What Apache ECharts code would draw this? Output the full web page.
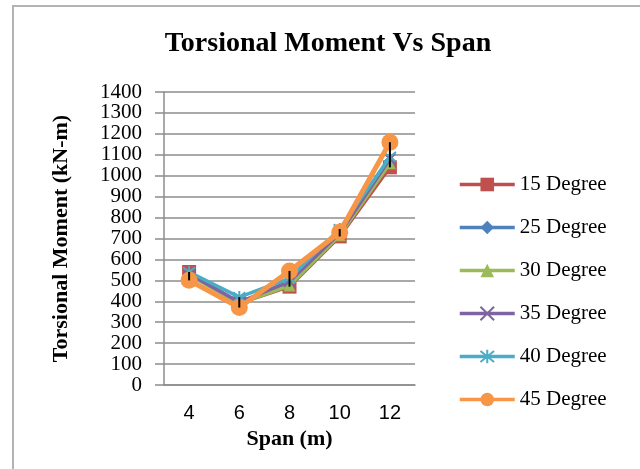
<!DOCTYPE html>
<html>
<head>
<meta charset="utf-8">
<script src="https://cdn.jsdelivr.net/npm/echarts@6/dist/echarts.min.js"></script>
<style>
  html, body { margin: 0; padding: 0; background: #fff; }
  #chart { width: 640px; height: 469px; }
  #frame { position: absolute; left: 12px; top: 5px; width: 640px; height: 480px; border: 2px solid #b3b3b3; box-sizing: border-box; pointer-events: none; }
</style>
</head>
<body>
<div id="chart"></div>
<div id="frame"></div>
<script>
// span (m) on the x axis
var spans = ['4', '6', '8', '10', '12'];
var yTicks = [0, 1400, 100];

// torsional moment (kN-m)
var deg15 = [540, 390, 470, 710, 1040];
var deg25 = [530, 395, 490, 720, 1070];
var deg30 = [525, 390, 475, 715, 1060];
var deg35 = [530, 395, 495, 725, 1080];
var deg40 = [540, 420, 510, 745, 1090];
var deg45 = [500, 370, 545, 730, 1160];

var names = ['15 Degree', '25 Degree', '30 Degree', '35 Degree', '40 Degree', '45 Degree'];
var allData = [deg15, deg25, deg30, deg35, deg40, deg45];

var colors = ['#C0504D', '#4F81BD', '#9BBB59', '#8064A2', '#4BACC6', '#F79646'];
var symbols = ['rect', 'diamond', 'triangle',
  'path://M0,0L10,10M10,0L0,10',
  'path://M5,0L5,10M0,1L10,9M10,1L0,9',
  'circle'];
var sizes = [14, 12, 12, 11, 12, 17];

// high-low lines: min and max of every category
var highLow = spans.map(function (s, i) {
  var vals = allData.map(function (d) { return d[i]; });
  return [i, Math.min.apply(null, vals), Math.max.apply(null, vals)];
});

var serif = '"Liberation Serif", "DejaVu Serif", serif';

var series = names.map(function (n, k) {
  var stroke = k == 3 || k == 4;
  return {
    name: n,
    type: 'line',
    data: allData[k],
    symbol: symbols[k],
    symbolSize: sizes[k],
    z: 2 + k,
    lineStyle: { color: colors[k], width: k == 5 ? 5 : 3.5 },
    itemStyle: {
      color: colors[k],
      borderColor: colors[k],
      borderWidth: stroke ? 2 : 0
    }
  };
});

series.push({
  type: 'custom',
  z: 20,
  silent: true,
  data: highLow,
  renderItem: function (params, api) {
    var a = api.coord([api.value(0), api.value(1)]);
    var b = api.coord([api.value(0), api.value(2)]);
    return {
      type: 'line',
      shape: { x1: a[0], y1: a[1], x2: b[0], y2: b[1] },
      style: { stroke: '#000', lineWidth: 2 }
    };
  }
});

// legend entries with thicker lines like the original
var legendItems = names.map(function (n, k) {
  return {
    name: n,
    lineStyle: { width: 3.5, color: colors[k] },
    itemStyle: { color: colors[k], borderColor: colors[k], borderWidth: (k == 3 || k == 4) ? 2 : 0 }
  };
});

var myChart = echarts.init(document.getElementById('chart'));
myChart.setOption({
  animation: false,
  title: {
    text: 'Torsional Moment Vs Span',
    left: 323,
    textAlign: 'center',
    top: 25,
    textStyle: { fontFamily: serif, fontSize: 28, fontWeight: 'bold', color: '#000' }
  },
  legend: {
    orient: 'vertical',
    left: 453,
    top: 169,
    itemWidth: 55,
    itemHeight: 17,
    itemGap: 22,
    data: legendItems,
    textStyle: { fontFamily: serif, fontSize: 21, color: '#000' }
  },
  grid: { left: 164, right: 225, top: 92, bottom: 84 },
  xAxis: {
    type: 'category',
    data: spans,
    name: 'Span (m)',
    nameLocation: 'middle',
    nameGap: 38,
    nameTextStyle: { fontFamily: serif, fontSize: 22, fontWeight: 'bold', color: '#000' },
    axisLine: { lineStyle: { color: '#8c8c8c', width: 1.5 } },
    axisTick: { show: false },
    axisLabel: { fontFamily: '"Liberation Sans", Arial, sans-serif', fontSize: 20, color: '#000', margin: 18 }
  },
  yAxis: {
    type: 'value',
    min: yTicks[0],
    max: yTicks[1],
    interval: yTicks[2],
    name: 'Torsional Moment (kN-m)',
    nameLocation: 'middle',
    nameGap: 92,
    nameTextStyle: { fontFamily: serif, fontSize: 22, fontWeight: 'bold', color: '#000' },
    axisLine: { show: true, lineStyle: { color: '#8c8c8c', width: 1.5 } },
    axisTick: { show: true, inside: false, length: 9, lineStyle: { color: '#8c8c8c', width: 1.5 } },
    splitLine: { lineStyle: { color: '#8c8c8c', width: 1.5 } },
    axisLabel: {
      fontFamily: serif, fontSize: 21, color: '#000', margin: 22,
      formatter: function (v) { return String(v); }
    }
  },
  series: series
});
</script>
</body>
</html>
